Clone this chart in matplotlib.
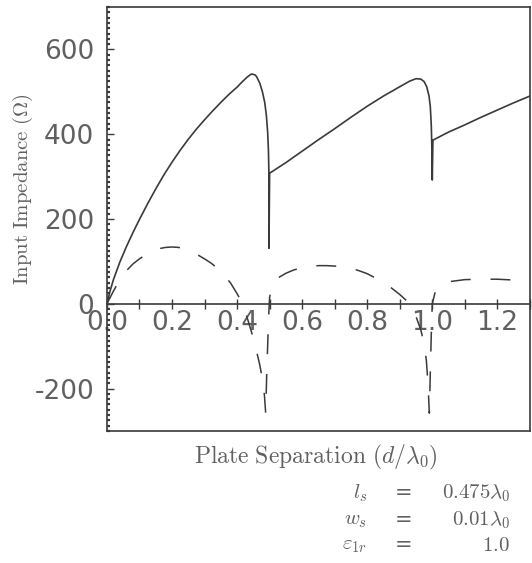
import numpy as np
import matplotlib
matplotlib.use('Agg')
import matplotlib.pyplot as plt
from matplotlib.ticker import MultipleLocator

plt.rcParams['mathtext.fontset'] = 'cm'
plt.rcParams['axes.unicode_minus'] = False

# plate separation d/lambda0 and input resistance (solid)
d_res = [0.0, 0.01, 0.02, 0.04, 0.06, 0.08, 0.10, 0.125, 0.15, 0.175, 0.2, 0.225,
         0.25, 0.275, 0.3, 0.325, 0.35, 0.375, 0.4, 0.415, 0.43, 0.44, 0.445, 0.455,
         0.46, 0.47, 0.478, 0.485, 0.49, 0.494, 0.4965, 0.498, 0.498,
         0.5, 0.55, 0.6, 0.65, 0.7, 0.75, 0.8, 0.85, 0.9, 0.93, 0.95, 0.965, 0.975,
         0.983, 0.99, 0.994, 0.997, 0.999, 1.0,
         1.002, 1.05, 1.1, 1.15, 1.2, 1.25, 1.3]
res = [0, 31, 57, 99, 135, 168, 199, 236, 271, 304, 334, 362,
       388, 412, 434, 455, 475, 494, 511, 523, 534, 540, 542, 540,
       536, 520, 500, 475, 445, 405, 360, 300, 131,
       308, 333, 360, 387, 413, 440, 466, 490, 512, 525, 531, 530, 524,
       512, 490, 465, 420, 360, 292,
       386, 405, 422, 440, 457, 474, 490]

# input reactance (dashed)
d_rea = [0.0, 0.02, 0.04, 0.06, 0.08, 0.1, 0.12, 0.14, 0.16, 0.18, 0.2, 0.22,
         0.24, 0.26, 0.28, 0.3, 0.32, 0.34, 0.36, 0.38, 0.4, 0.41, 0.42, 0.43,
         0.445, 0.46, 0.47, 0.478, 0.484, 0.488, 0.491, 0.494, 0.497, 0.5,
         0.505, 0.515, 0.53, 0.55, 0.575, 0.6, 0.625, 0.65, 0.675, 0.7, 0.725,
         0.75, 0.775, 0.8, 0.825, 0.85, 0.875, 0.9, 0.92, 0.935, 0.95, 0.965,
         0.975, 0.982, 0.987, 0.991, 0.994, 0.997, 1.0, 1.008, 1.018, 1.035,
         1.06, 1.1, 1.15, 1.2, 1.25, 1.3]
rea = [0, 30, 57, 78, 94, 106, 116, 124, 130, 133, 134, 133,
       129, 123, 115, 106, 96, 84, 68, 49, 24, 10, -8, -30,
       -68, -112, -145, -178, -215, -258, -170, -100, -30, 15,
       35, 52, 63, 72, 80, 85, 88, 90, 90, 89, 87,
       84, 78, 71, 61, 50, 37, 22, 8, -8, -30, -62,
       -95, -135, -190, -258, -160, -70, 0, 25, 38, 47,
       53, 57, 58, 58, 56, 53]

xticks = [0.0, 0.2, 0.4, 0.6, 0.8, 1.0, 1.2]

ink = '#3a3a3a'
txt = '#606060'

fig = plt.figure(figsize=(5.32, 5.63), dpi=100)
ax = fig.add_axes([0.201, 0.2345, 0.795, 0.753])

ax.plot(d_res, res, color=ink, lw=1.2)
ax.plot(d_rea, rea, color=ink, lw=1.1, dashes=(13, 13))

ax.set_xlim(0, 1.3)
ax.set_ylim(-300, 700)

for s in ax.spines.values():
    s.set_color(ink)
    s.set_linewidth(1.2)

ax.tick_params(axis='x', bottom=False, labelbottom=False)
ax.yaxis.set_major_locator(MultipleLocator(200))
ax.yaxis.set_minor_locator(MultipleLocator(12.5))
ax.tick_params(axis='y', which='major', direction='in', length=5, width=1.0,
               color=ink, labelsize=19, labelcolor=txt, pad=9)
ax.tick_params(axis='y', which='minor', direction='in', length=2.5, width=1.6, color=ink)

# x axis drawn on the zero line
sec = ax.secondary_xaxis(0.3)
sec.spines['bottom'].set_color(ink)
sec.spines['bottom'].set_linewidth(1.2)
sec.set_xticks(xticks)
sec.set_xticklabels(['%.1f' % v for v in xticks])
sec.xaxis.set_minor_locator(MultipleLocator(0.1))
sec.tick_params(axis='x', which='both', direction='inout', length=7, width=1.0,
                color=ink, labelsize=19, labelcolor=txt, pad=1)

ax.set_ylabel(r'$\mathrm{Input\ Impedance\ (\Omega)}$', fontsize=15, color=txt)
ax.yaxis.set_label_coords(-0.17, 0.57)

fig.text(0.594, 0.187, r'$\mathrm{Plate\ Separation}\ (d/\lambda_0)$',
         ha='center', va='center', fontsize=17, color=txt)

rows = [(0.1243, r'$l_s$', r'$0.475\lambda_0$'),
        (0.0764, r'$w_s$', r'$0.01\lambda_0$'),
        (0.032, r'$\varepsilon_{1r}$', r'$1.0$')]
for y, sym, val in rows:
    fig.text(0.69, y, sym, ha='right', va='center', fontsize=15, color=txt)
    fig.text(0.759, y, '=', ha='center', va='center', fontsize=15, color=txt)
    fig.text(0.959, y, val, ha='right', va='center', fontsize=15, color=txt)

fig.savefig('out.png', dpi=100)
